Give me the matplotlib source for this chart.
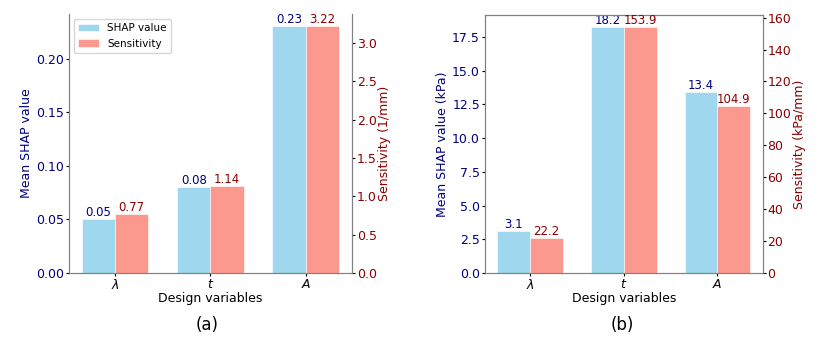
import matplotlib
matplotlib.use("Agg")
import matplotlib.pyplot as plt
import numpy as np

categories = [r"$\lambda$", r"$t$", r"$A$"]
shap_a = [0.05, 0.08, 0.23]
sens_a = [0.77, 1.14, 3.22]
shap_b = [3.1, 18.2, 13.4]
sens_b = [22.2, 153.9, 104.9]

fig = plt.figure(figsize=(8.3, 3.5), dpi=100)
ax_a = fig.add_axes([0.083, 0.22, 0.341, 0.74])
ax_b = fig.add_axes([0.584, 0.22, 0.335, 0.737])

blue = "skyblue"
red = "salmon"
w = 0.35
x = np.arange(len(categories))
fs = 9
vfs = 8.5
tl = 2.2
tp = 1.2


def panel(ax, shap, sens, ylab_l, ylab_r, fmt_l, fmt_r, legend, top_spine):
    ax2 = ax.twinx()
    b1 = ax.bar(x - w / 2, shap, w, color=blue, alpha=0.8, edgecolor="white", linewidth=0.5, label="SHAP value")
    b2 = ax2.bar(x + w / 2, sens, w, color=red, alpha=0.8, edgecolor="white", linewidth=0.5, label="Sensitivity")
    ax.set_ylim(0, max(shap) * 1.05)
    ax2.set_ylim(0, max(sens) * 1.05)
    ax.set_xticks(x)
    ax.set_xticklabels(categories, fontsize=fs)
    ax.tick_params(axis="x", length=tl, pad=tp)
    ax.set_xlabel("Design variables", fontsize=fs, labelpad=0.5)
    ax.set_ylabel(ylab_l, color="navy", fontsize=fs, labelpad=2)
    ax2.set_ylabel(ylab_r, color="darkred", fontsize=fs, labelpad=1)
    ax.tick_params(axis="y", labelcolor="navy", labelsize=fs, length=tl, pad=tp)
    ax2.tick_params(axis="y", labelcolor="darkred", labelsize=fs, length=tl, pad=tp)
    for r, v in zip(b1, shap):
        ax.text(r.get_x() + r.get_width() / 2, r.get_height(), fmt_l.format(v),
                ha="center", va="bottom", color="navy", fontsize=vfs)
    for r, v in zip(b2, sens):
        ax2.text(r.get_x() + r.get_width() / 2, r.get_height(), fmt_r.format(v),
                 ha="center", va="bottom", color="darkred", fontsize=vfs)
    for a in (ax, ax2):
        for s in a.spines.values():
            s.set_color("gray")
        if not top_spine:
            a.spines["top"].set_visible(False)
    if legend:
        ax.legend([b1, b2], ["SHAP value", "Sensitivity"], loc="upper left", fontsize=7.5,
                  framealpha=0.8)
    return ax2


panel(ax_a, shap_a, sens_a, "Mean SHAP value", "Sensitivity (1/mm)", "{:.2f}", "{:.2f}", True, False)
panel(ax_b, shap_b, sens_b, "Mean SHAP value (kPa)", "Sensitivity (kPa/mm)", "{:.1f}", "{:.1f}", False, True)

fig.text(0.25, 0.07, "(a)", ha="center", va="center", fontsize=12)
fig.text(0.75, 0.07, "(b)", ha="center", va="center", fontsize=12)

fig.savefig("out.png", dpi=100)
